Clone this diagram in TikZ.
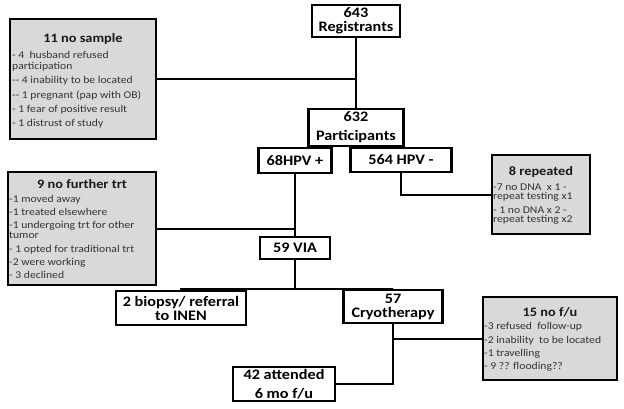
\documentclass[tikz,border=0pt]{standalone}
\usepackage{fontspec}
\setmainfont{Carlito}[FakeStretch=1.12]
\usetikzlibrary{shadows}
\definecolor{boxgray}{HTML}{D9D9D9}
\tikzset{
  boxshadow/.style={drop shadow={shadow xshift=1.2pt, shadow yshift=-1.2pt, fill=black, opacity=0.35}},
  mainbox/.style={draw=black, line width=2.8pt, fill=white, align=center, inner sep=0pt,
    font=\fontsize{14.5}{14}\selectfont\bfseries, boxshadow},
  graybox/.style={draw=black, line width=2.8pt, fill=boxgray, inner sep=0pt, boxshadow},
  gtitle/.style={font=\fontsize{12.8}{14}\selectfont\bfseries, inner sep=0pt, text=black!90},
  gitem/.style={font=\fontsize{10.4}{12}\selectfont, inner sep=0pt, anchor=base west, text=black!80},
  conn/.style={line width=2pt, draw=black},
}
\begin{document}
\begin{tikzpicture}[x=1pt,y=-1pt]
\useasboundingbox (0,0) rectangle (624,409);

% main boxes
\node[mainbox, minimum width=88, minimum height=32] (reg) at (356,21) {643\\[0.5pt]Registrants};
\node[mainbox, minimum width=95, minimum height=37] (part) at (356,127.5) {632\\[5pt]Participants};
\node[mainbox, minimum width=73, minimum height=25] (hpvp) at (295,160.5) {68HPV +};
\node[mainbox, minimum width=101, minimum height=24] (hpvn) at (401,160) {564 HPV -};
\node[mainbox, minimum width=70, minimum height=22] (via) at (295,248) {59 VIA};
\node[mainbox, minimum width=130, minimum height=34] (bio) at (181,308) {2 biopsy/ referral\\to INEN};
\node[mainbox, minimum width=99, minimum height=33] (cryo) at (393,306.5) {57\\Cryotherapy};
\node[mainbox, minimum width=102, minimum height=34] (att) at (284,384) {42 attended\\[5pt]6 mo f/u};

% gray boxes
\node[graybox, minimum width=146, minimum height=120] (ns) at (83,79) {};
\node[graybox, minimum width=148, minimum height=113] (nft) at (82,228.5) {};
\node[graybox, minimum width=98, minimum height=79] (rep) at (541,194.5) {};
\node[graybox, minimum width=134, minimum height=83] (nfu) at (550,338.5) {};

% connectors
\draw[conn] (reg.south) -- (part.north);
\draw[conn] (ns.east) -- (ns.east -| reg.south);
\draw[conn] (hpvn.south) |- (rep.west);
\draw[conn] (hpvp.south) -- (via.north);
\draw[conn] (nft.east) -- (nft.east -| via.north);
\draw[conn] (via.south) -- ++(0,29) coordinate (vj);
\draw[conn] (bio.north) |- (vj) -| (cryo.north);
\draw[conn] (cryo.south) |- (att.east);
\draw[conn] (cryo.south |- nfu.west) -- (nfu.west);

% 11 no sample
\node[gtitle] (ns-t) at (83,39) {11 no sample};
\node[gitem] (ns-1) at (12,58.2) {- 4\ \ husband refused};
\node[gitem] (ns-2) at (12,69.2) {participation};
\node[gitem] (ns-3) at (12,83.2) {-{}- 4 inability to be located};
\node[gitem] (ns-4) at (12,98.2) {-{}- 1 pregnant (pap with OB)};
\node[gitem] (ns-5) at (12,112.4) {- 1 fear of positive result};
\node[gitem] (ns-6) at (12,126.8) {- 1 distrust of study};

% 9 no further trt
\node[gtitle] (nft-t) at (82,184) {9 no further trt};
\node[gitem] (nft-1) at (9,202.3) {-1 moved away};
\node[gitem] (nft-2) at (9,215.3) {-1 treated elsewhere};
\node[gitem] (nft-3) at (9,228.9) {-1 undergoing trt for other};
\node[gitem] (nft-4) at (9,238.5) {tumor};
\node[gitem] (nft-5) at (9,252.2) {- 1 opted for traditional trt};
\node[gitem] (nft-6) at (9,265.2) {-2 were working};
\node[gitem] (nft-7) at (9,278.2) {- 3 declined};

% 8 repeated
\node[gtitle] (rep-t) at (541,172) {8 repeated};
\node[gitem] (rep-1) at (493,190.2) {-7 no DNA\ \ x 1 -};
\node[gitem] (rep-2) at (493,199.2) {repeat testing x1};
\node[gitem] (rep-3) at (493,213.2) {- 1 no DNA x 2 -};
\node[gitem] (rep-4) at (493,222.2) {repeat testing x2};

% 15 no f/u
\node[gtitle] (nfu-t) at (550,312) {15 no f/u};
\node[gitem] (nfu-1) at (484,329.2) {-3 refused\ \ follow-up};
\node[gitem] (nfu-2) at (484,343.2) {-2 inability\ \ to be located};
\node[gitem] (nfu-3) at (484,356.2) {-1 travelling};
\node[gitem] (nfu-4) at (484,369.2) {- 9 ?? flooding??};
\end{tikzpicture}
\end{document}
